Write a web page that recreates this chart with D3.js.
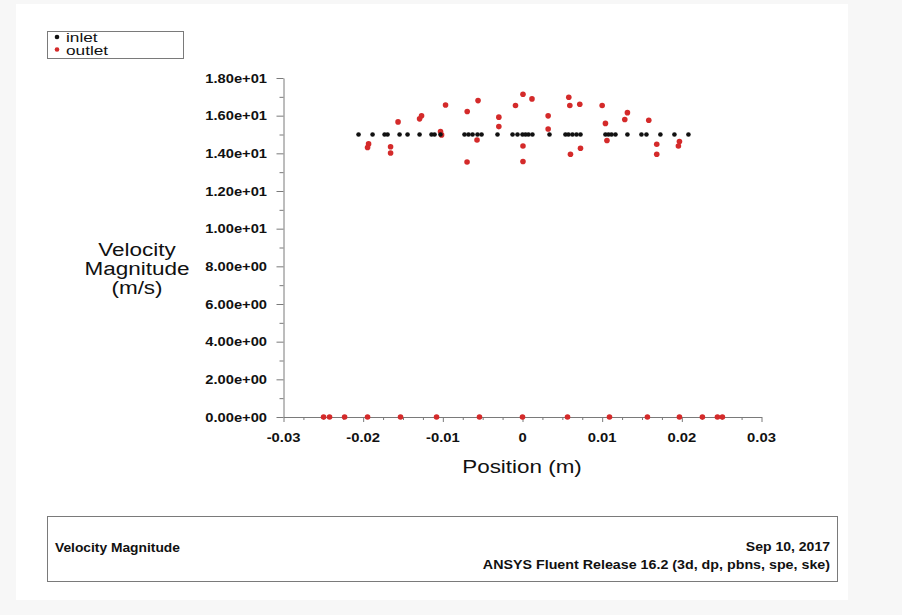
<!DOCTYPE html>
<html>
<head>
<meta charset="utf-8">
<script src="https://cdn.jsdelivr.net/npm/d3@7"></script>
<style>
  html, body { margin: 0; padding: 0; background: #f7f7f7; }
  svg { display: block; }
  text { font-family: "Liberation Sans", Arial, sans-serif; fill: #111; }
</style>
</head>
<body>
<svg id="chart" width="902" height="615"></svg>
<script>
// Inlet profile: position (m) of each inlet sample, all at 15 m/s
const inletX = [-0.02058, -0.01882, -0.01731, -0.01694, -0.01543, -0.01443, -0.01292,
  -0.01142, -0.01104, -0.01029, -0.00728, -0.00678, -0.00627, -0.00565, -0.00514,
  -0.00314, -0.00125, -0.00063, 0.0, 0.00038, 0.00075, 0.00125, 0.00339, 0.00539,
  0.00577, 0.00627, 0.00678, 0.00728, 0.01041, 0.01079, 0.01117, 0.01167, 0.01317,
  0.01493, 0.01556, 0.01731, 0.01907, 0.02083];
const inletV = inletX.map(() => 15.0);

// Outlet profile: position (m) and velocity magnitude (m/s)
const outletX = [-0.01932, -0.01945, -0.01656, -0.01656, -0.01562, -0.01292, -0.01267,
  -0.01029, -0.01016, -0.00966, -0.00694, -0.00558, -0.00571, -0.00696, -0.00297,
  -0.00297, -0.00088, 0.00006, 0.00119, 0.00006, 0.00006, 0.00322, 0.00322, 0.00581,
  0.00594, 0.00719, 0.00602, 0.00728, 0.01000, 0.01041, 0.01060, 0.01317, 0.01284,
  0.01585, 0.01685, 0.01685, 0.01970, 0.01957,
  -0.02497, -0.02422, -0.02233, -0.01945, -0.01531, -0.01079, -0.00540, 0.0,
  0.00565, 0.01092, 0.01568, 0.01970, 0.02258, 0.02447, 0.02509];
const outletV = [14.50, 14.31, 14.35, 14.02, 15.67, 15.83, 15.99,
  15.16, 14.98, 16.57, 16.22, 16.80, 14.71, 13.54, 15.92,
  15.42, 16.54, 17.14, 16.89, 14.39, 13.57, 15.99, 15.29, 16.98,
  16.54, 16.61, 13.95, 14.27, 16.54, 15.59, 14.68, 16.16, 15.80,
  15.76, 14.48, 13.95, 14.63, 14.39,
  0, 0, 0, 0, 0, 0, 0, 0,
  0, 0, 0, 0, 0, 0, 0];

// Axis ticks and labels
const xTicks = [-0.03, -0.02, -0.01, 0, 0.01, 0.02, 0.03];
const xTickLabels = ["-0.03", "-0.02", "-0.01", "0", "0.01", "0.02", "0.03"];
const yTicks = [0, 2, 4, 6, 8, 10, 12, 14, 16, 18];
const yTickLabels = ["0.00e+00", "2.00e+00", "4.00e+00", "6.00e+00", "8.00e+00",
  "1.00e+01", "1.20e+01", "1.40e+01", "1.60e+01", "1.80e+01"];
const legendNames = ["inlet", "outlet"];
const titleLines = ["Velocity", "Magnitude", "(m/s)"];

const AXIS = "#7a7a7a";
const RED = "#d42a2a";
const BLACK = "#111111";

const svg = d3.select("#chart");

// Sheet
svg.append("rect").attr("x", 16).attr("y", 4).attr("width", 832).attr("height", 596)
  .attr("fill", "#ffffff");

// Horizontally widened text, anchored at (x, y)
function wideText(parent, x, y, str, size, weight, anchor, sx) {
  return parent.append("text")
    .attr("transform", `translate(${x},${y}) scale(${sx},1)`)
    .attr("text-anchor", anchor)
    .style("font-size", size + "px")
    .style("font-weight", weight)
    .text(str);
}

const x = d3.scaleLinear().domain([-0.03, 0.03]).range([283.5, 761.5]);
const y = d3.scaleLinear().domain([0, 18]).range([417, 78]);

// X axis (ticks point down)
const xAxis = d3.axisBottom(x)
  .tickValues(d3.range(-0.03, 0.03001, 0.0025))
  .tickSizeOuter(0)
  .tickFormat(() => "");
const gx = svg.append("g").attr("transform", `translate(0,${y(0)})`).call(xAxis);
gx.select(".domain").attr("stroke", AXIS);
gx.selectAll(".tick line").attr("stroke", AXIS)
  .attr("y2", d => (Math.abs(Math.round(d * 100) - d * 100) < 1e-6 ? 5 : 3));

xTicks.forEach((t, i) => {
  wideText(svg, x(t), 442, xTickLabels[i], 13, "bold", "middle", 1.14);
});

// Y axis (ticks point left)
const yAxis = d3.axisLeft(y)
  .tickValues(d3.range(0, 18.001, 1))
  .tickSizeOuter(0)
  .tickFormat(() => "");
const gy = svg.append("g").attr("transform", `translate(${x(-0.03)},0)`).call(yAxis);
gy.select(".domain").attr("stroke", AXIS);
gy.selectAll(".tick line").attr("stroke", AXIS)
  .attr("x2", d => (d % 2 === 0 ? -7 : -4));

yTicks.forEach((t, i) => {
  wideText(svg, 267, y(t) + 4.5, yTickLabels[i], 13, "bold", "end", 1.13);
});

// Axis titles
wideText(svg, 522, 473, "Position (m)", 19, "normal", "middle", 1.18);
titleLines.forEach((s, i) => {
  wideText(svg, 137, 256 + i * 19, s, 18, "normal", "middle", 1.25);
});

// Series
svg.append("g").selectAll("circle").data(outletX)
  .join("circle")
  .attr("cx", (d, i) => x(d))
  .attr("cy", (d, i) => y(outletV[i]))
  .attr("r", 2.8)
  .attr("fill", RED);

svg.append("g").selectAll("circle").data(inletX)
  .join("circle")
  .attr("cx", (d, i) => x(d))
  .attr("cy", (d, i) => y(inletV[i]))
  .attr("r", 2.3)
  .attr("fill", BLACK);

// Legend
const lg = svg.append("g");
lg.append("rect").attr("x", 47.5).attr("y", 31.5).attr("width", 136).attr("height", 27)
  .attr("fill", "#fff").attr("stroke", AXIS);
const legendColors = [BLACK, RED];
legendNames.forEach((n, i) => {
  lg.append("circle").attr("cx", 57).attr("cy", 37 + i * 12.5).attr("r", 2.3)
    .attr("fill", legendColors[i]);
  wideText(lg, 66, 41.5 + i * 13.5, n, 12.5, "normal", "start", 1.38);
});

// Footer panel
const ft = svg.append("g");
ft.append("rect").attr("x", 47.5).attr("y", 516.5).attr("width", 790).attr("height", 65)
  .attr("fill", "#fff").attr("stroke", AXIS);
wideText(ft, 55, 552, "Velocity Magnitude", 12, "bold", "start", 1.15);
wideText(ft, 830, 551, "Sep 10, 2017", 12, "bold", "end", 1.17);
wideText(ft, 830, 569, "ANSYS Fluent Release 16.2 (3d, dp, pbns, spe, ske)", 12, "bold", "end", 1.19);
</script>
</body>
</html>
